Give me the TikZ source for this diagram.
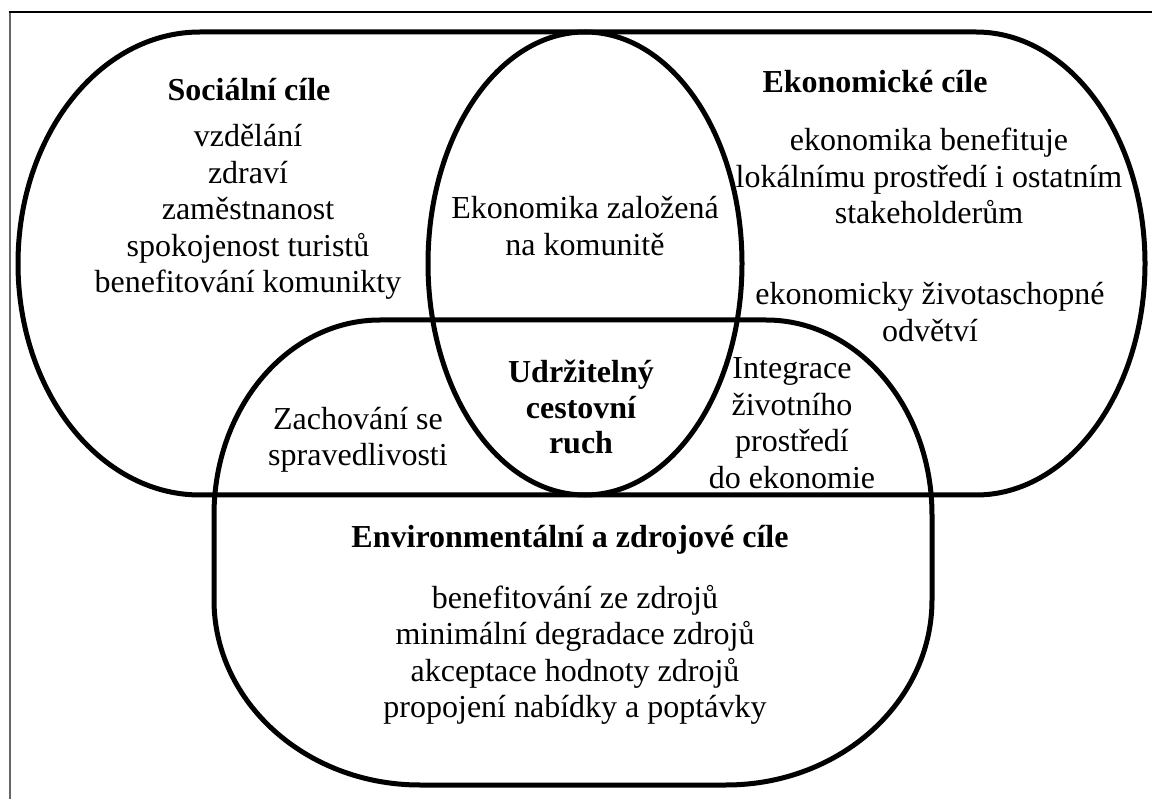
\documentclass[tikz,border=0pt]{standalone}
\usepackage{fontspec}
\setmainfont{Liberation Serif}
\begin{document}
\begin{tikzpicture}[x=1pt,y=-1pt,
    goal/.style={draw, line width=5pt},
    txt/.style={align=center, inner sep=0pt, font=\fontsize{32}{36.5}\selectfont},
    head/.style={align=center, inner sep=0pt, font=\fontsize{32}{35.5}\selectfont\bfseries}]
    \useasboundingbox (0,0) rectangle (1152,799);
    % Frame
    \draw[line width=2.5pt, black!60] (10,799) -- (10,12);
    \draw[line width=2pt] (9,12) -- (1152,12);
    % Social goals (left)
    \draw[goal] (585,32) -- (200,32) arc[start angle=270, end angle=90, x radius=182, y radius=231.5] -- (585,495);
    % Economic goals (right)
    \draw[goal] (585,32) -- (976,32) arc[start angle=-90, end angle=90, x radius=169, y radius=231.5] -- (585,495);
    % Environmental goals (bottom)
    \draw[goal] (380,320) -- (766,320)
        arc[start angle=-90, end angle=0, x radius=166, y radius=195] -- (932,600)
        arc[start angle=0, end angle=90, x radius=206, y radius=185] -- (420,785)
        arc[start angle=90, end angle=180, x radius=206, y radius=185] -- (214,515)
        arc[start angle=180, end angle=270, x radius=166, y radius=195] -- cycle;
    % Centre
    \draw[goal] (585,263.5) ellipse[x radius=157, y radius=231.5];
    % Left texts
    \node[head] (soctitle) at (249,90) {Sociální cíle};
    \node[txt] (soclist) at (248,212) {vzdělání\\zdraví\\zaměstnanost\\spokojenost turistů\\benefitování komunikty};
    % Right texts
    \node[head] (ekotitle) at (875,82) {Ekonomické cíle};
    \node[txt] (ekolist) at (929,176) {ekonomika benefituje\\lokálnímu prostředí i ostatním\\stakeholderům};
    \node[txt] (ekoodv) at (930,312) {ekonomicky životaschopné\\odvětví};
    % Overlaps
    \node[txt] (komunita) at (585,226) {Ekonomika založená\\na komunitě};
    \node[txt] (sprav) at (358,440) {Zachování se\\spravedlivosti};
    \node[txt] (integ) at (792,423) {Integrace\\životního\\prostředí\\do ekonomie};
    \node[head] (cr) at (581,407) {Udržitelný\\cestovní\\ruch};
    % Bottom texts
    \node[head] (envtitle) at (570,540) {Environmentální a zdrojové cíle};
    \node[txt] (envlist) at (575,655) {benefitování ze zdrojů\\minimální degradace zdrojů\\akceptace hodnoty zdrojů\\propojení nabídky a poptávky};
\end{tikzpicture}
\end{document}
